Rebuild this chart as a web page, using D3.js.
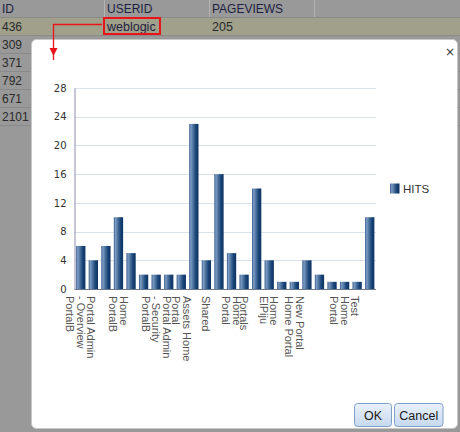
<!DOCTYPE html>
<html><head><meta charset="utf-8">
<script src="https://cdn.jsdelivr.net/npm/d3@7"></script>
<style>html,body{margin:0;padding:0;background:#999;}svg{display:block;}</style>
</head><body>
<script>
// ---- data ----
const tableColumns = ["ID", "USERID", "PAGEVIEWS"];
const tableIds = ["436", "309", "371", "792", "671", "2101"];
const selectedRow = ["436", "weblogic", "205"];
const categories = [
  "Portal Admin\n- Overview\nPortalB", "", "", "Home\nPortalB", "", "",
  "Portal Admin\n- Security\nPortalB", "", "Assets Home\nPortal", "", "Shared", "",
  "Home\nPortal", "Portals", "", "Home\nElPiju", "", "New Portal\nHome Portal",
  "", "", "", "Test\nHome\nPortal", "", ""
];
const hits = [6,4,6,10,5,2,2,2,2,23,4,16,5,2,14,4,1,1,4,2,1,1,1,10];
const yTicks = [0,4,8,12,16,20,24,28];
const seriesName = "HITS";
const buttons = ["OK", "Cancel"];

const W = 460, H = 432;
const svg = d3.select("body").append("svg").attr("width", W).attr("height", H);
const defs = svg.append("defs");
const g = defs.append("linearGradient").attr("id", "barGrad").attr("x1", 0).attr("x2", 1).attr("y1", 0).attr("y2", 0);
[[0,"#34598a"],[0.18,"#7d9cc4"],[0.35,"#5a7ea9"],[0.7,"#1a4677"],[1,"#0c3263"]].forEach(([o,c]) =>
  g.append("stop").attr("offset", o).attr("stop-color", c));
const bg = defs.append("linearGradient").attr("id", "btnGrad").attr("x1", 0).attr("x2", 0).attr("y1", 0).attr("y2", 1);
[[0,"#e9f1fa"],[1,"#c6d9ef"]].forEach(([o,c]) => bg.append("stop").attr("offset", o).attr("stop-color", c));

// ---- background table ----
svg.append("rect").attr("width", W).attr("height", H).attr("fill", "#999999");
svg.append("rect").attr("x", 0).attr("y", 18).attr("width", W).attr("height", 18).attr("fill", "#a0a08b");
const colX = [0, 105, 210, 315];
[104, 209, 314].forEach(x => svg.append("line").attr("x1", x + 0.5).attr("x2", x + 0.5).attr("y1", 0).attr("y2", 17)
  .attr("stroke", "#b4b4b4"));
for (let i = 0; i < 7; i++) {
  svg.append("line").attr("x1", 0).attr("x2", W).attr("y1", 17.5 + i * 18).attr("y2", 17.5 + i * 18)
    .attr("stroke", "#8a8a8a");
}
const tf = "Liberation Sans, Arial, sans-serif";
tableColumns.forEach((t, i) => svg.append("text").attr("x", colX[i] + 2).attr("y", 13)
  .attr("font-family", tf).attr("font-size", 12).attr("fill", "#1e1e40").text(t));
tableIds.forEach((t, i) => svg.append("text").attr("x", 2).attr("y", 31 + i * 18)
  .attr("font-family", tf).attr("font-size", 12).attr("fill", "#2a2a2a").text(t));
selectedRow.slice(1).forEach((t, i) => svg.append("text").attr("x", colX[i + 1] + 2).attr("y", 31)
  .attr("font-family", tf).attr("font-size", 12.5).attr("fill", i === 0 ? "#1e1e40" : "#2a2a2a").text(t));

// ---- dialog ----
svg.append("rect").attr("x", 31.5).attr("y", 39.5).attr("width", 426).attr("height", 389).attr("rx", 5)
  .attr("fill", "#ffffff").attr("stroke", "#c8c8c8");
svg.append("text").attr("x", 450).attr("y", 56).attr("text-anchor", "middle")
  .attr("font-family", "DejaVu Sans, sans-serif").attr("font-size", 12).attr("fill", "#333").text("×");

// red highlight & arrow
svg.append("rect").attr("x", 104).attr("y", 18).attr("width", 56).attr("height", 16)
  .attr("fill", "none").attr("stroke", "#e8141a").attr("stroke-width", 2);
svg.append("path").attr("d", "M102,24.5 H53.5 V60").attr("fill", "none").attr("stroke", "#e8141a").attr("stroke-width", 1.3);
svg.append("path").attr("d", "M49.5,48 H57.5 L53.5,56 Z").attr("fill", "#e8141a");

// ---- chart ----
const m = {left: 74.5, right: 376, top: 88, bottom: 289};
const x = d3.scaleBand().domain(d3.range(hits.length)).range([m.left, m.right]).paddingInner(0.26).paddingOuter(0.13);
const y = d3.scaleLinear().domain([0, 28]).range([m.bottom, m.top]);

svg.append("g").selectAll("line").data(yTicks.slice(1)).join("line")
  .attr("x1", m.left).attr("x2", m.right).attr("y1", d => Math.round(y(d)) + 0.5).attr("y2", d => Math.round(y(d)) + 0.5)
  .attr("stroke", "#d9e1eb");

const yAxis = svg.append("g").attr("transform", `translate(${m.left},0)`)
  .call(d3.axisLeft(y).tickValues(yTicks).tickSize(0).tickPadding(8));
yAxis.select(".domain").attr("stroke", "#8d8db0");
yAxis.selectAll("text").attr("font-family", "DejaVu Sans, sans-serif").attr("font-size", 10).attr("fill", "#333");

svg.append("g").selectAll("rect").data(hits).join("rect")
  .attr("x", (d, i) => x(i)).attr("width", x.bandwidth())
  .attr("y", d => y(d)).attr("height", d => y(0) - y(d))
  .attr("fill", "url(#barGrad)");

svg.append("line").attr("x1", m.left).attr("x2", m.right).attr("y1", m.bottom + 0.5).attr("y2", m.bottom + 0.5)
  .attr("stroke", "#6a7590");

// x labels (rotated 90°)
const lh = 10.5;
const xl = svg.append("g");
categories.forEach((c, i) => {
  if (!c) return;
  const lines = c.split("\n");
  const cx = x(i) + x.bandwidth() / 2;
  const t = xl.append("text").attr("transform", `translate(${cx},296) rotate(90)`)
    .attr("font-family", tf).attr("font-size", 11).attr("fill", "#555");
  lines.forEach((ln, k) => {
    const s = ((lines.length - 1) / 2 - k) * lh;
    t.append("tspan").attr("x", 0).attr("y", -s + 4).text(ln);
  });
});

// legend
svg.append("rect").attr("x", 390).attr("y", 183.5).attr("width", 9.5).attr("height", 10).attr("fill", "url(#barGrad)");
svg.append("text").attr("x", 403).attr("y", 192.5).attr("font-family", tf)
  .attr("font-size", 11.5).attr("fill", "#333").text(seriesName);

// buttons
const btn = [{x: 354.5, w: 37}, {x: 394.5, w: 48.5}];
buttons.forEach((b, i) => {
  svg.append("rect").attr("x", btn[i].x).attr("y", 403.5).attr("width", btn[i].w).attr("height", 23).attr("rx", 3)
    .attr("fill", "url(#btnGrad)").attr("stroke", "#7f9fc9");
  svg.append("text").attr("x", btn[i].x + btn[i].w / 2).attr("y", 419.5).attr("text-anchor", "middle")
    .attr("font-family", tf).attr("font-size", 12.5).attr("fill", "#1a1a1a").text(b);
});
</script>
</body></html>
